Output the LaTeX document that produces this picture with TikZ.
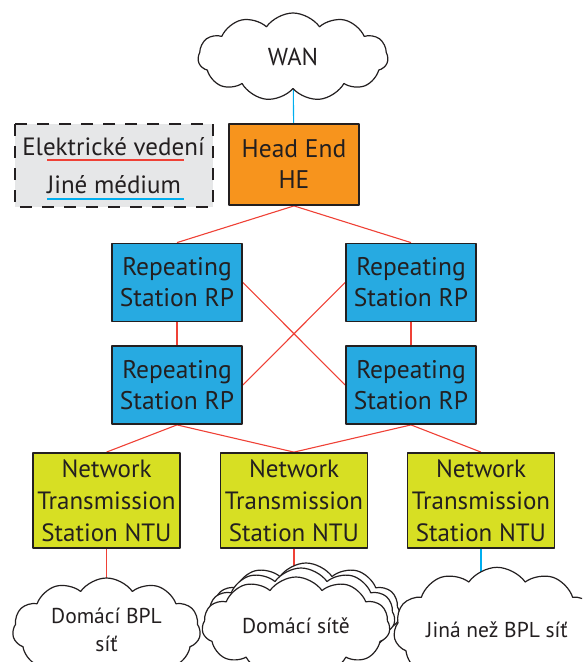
\documentclass[tikz,border=0pt]{standalone}
\usepackage{fontspec}
\setmainfont{PT Sans}
\usetikzlibrary{shapes.symbols,backgrounds}
\definecolor{ink}{HTML}{231F20}
\definecolor{heorange}{HTML}{F7941D}
\definecolor{rpblue}{HTML}{27AAE1}
\definecolor{ntuyellow}{HTML}{D7DF23}
\definecolor{linered}{HTML}{EF4136}
\definecolor{linecyan}{HTML}{00AEEF}
\definecolor{legendgray}{HTML}{E6E7E8}
\begin{document}
\begin{tikzpicture}[x=1pt,y=-1pt,line join=round,
		box/.style={draw=ink,line width=1.8pt,text=ink,align=center,inner sep=0pt,font=\fontsize{25.5}{31}\selectfont},
		hebox/.style={box,fill=heorange,minimum width=130,minimum height=81},
		rpbox/.style={box,fill=rpblue,minimum width=130,minimum height=78},
		ntubox/.style={box,fill=ntuyellow,minimum width=147,minimum height=95,font=\fontsize{25}{32}\selectfont},
		net/.style={cloud,cloud puffs=11,cloud puff arc=110,aspect=2,draw=ink,line width=1.2pt,fill=white,text=ink,align=center,inner sep=0pt,font=\fontsize{21.5}{28}\selectfont},
		power/.style={linered,line width=1.1pt},
		other/.style={linecyan,line width=1.1pt}]
	\useasboundingbox (0,0) rectangle (582,662);
	\clip (0,0) rectangle (582,662);
	% legenda
	\draw [ink,fill=legendgray,line width=1.8pt,dash pattern=on 12pt off 10pt] (15,124) rectangle (213,207);
	\node (leg1) [anchor=base,text=ink,font=\fontsize{25}{28}\selectfont] at (113.5,155) {Elektrické vedení};
	\node (leg2) [anchor=base,text=ink,font=\fontsize{25}{28}\selectfont] at (114,193) {Jiné médium};
	\draw [power] (47,160) -- (184,160);
	\draw [other] (47,199) -- (184,199);
	% sit
	\node (wan) [net,minimum width=190,minimum height=88,font=\fontsize{24.5}{28}\selectfont] at (293,57) {WAN};
	\node (he) [hebox] at (294,164.5) {Head End\\HE};
	\node (rp1) [rpbox] at (177,282.5) {Repeating\\Station RP};
	\node (rp2) [rpbox] at (411,282.5) {Repeating\\Station RP};
	\node (rp3) [rpbox] at (177,385) {Repeating\\Station RP};
	\node (rp4) [rpbox] at (411,385) {Repeating\\Station RP};
	\node (ntu1) [ntubox] at (106.5,500.5) {Network\\Transmission\\Station NTU};
	\node (ntu2) [ntubox] at (294,500.5) {Network\\Transmission\\Station NTU};
	\node (ntu3) [ntubox] at (481,500.5) {Network\\Transmission\\Station NTU};
	\node (home1) [net,minimum width=188,minimum height=104] at (106.5,630) {Domácí BPL\\síť};
	\node (home2c) [net,minimum width=188,minimum height=98] at (306,612) {};
	\node (home2b) [net,minimum width=188,minimum height=98] at (301,617) {};
	\node (home2) [net,minimum width=188,minimum height=98] at (296,626) {Domácí sítě};
	\node (other) [net,minimum width=188,minimum height=104] at (497,630) {Jiná než BPL síť};
	\begin{scope}[on background layer]
		\draw [other] (wan) -- (he);
		\draw [power] (he.south) -- (rp1.north) (he.south) -- (rp2.north);
		\draw [power] (rp1) -- (rp3) (rp2) -- (rp4);
		\draw [power] (rp1.east) -- (rp4.west) (rp2.west) -- (rp3.east);
		\draw [power] (rp3.south) -- (ntu1.north) (rp3.south) -- (ntu2.north);
		\draw [power] (rp4.south) -- (ntu2.north) (rp4.south) -- (ntu3.north);
		\draw [power] (ntu1.south) -- (ntu1.south |- home1.center);
		\draw [power] (ntu2.south) -- (ntu2.south |- home2c.center);
		\draw [other] (ntu3.south) -- (ntu3.south |- other.center);
	\end{scope}
\end{tikzpicture}
\end{document}
